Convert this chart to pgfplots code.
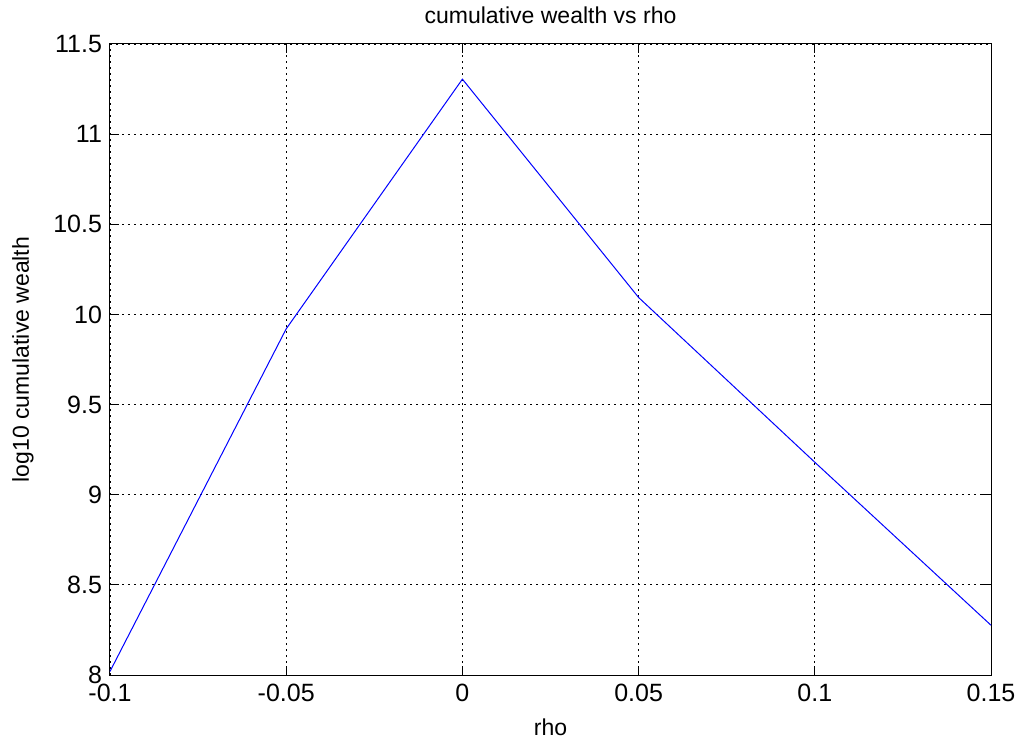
\documentclass[border=0pt]{standalone}
\usepackage{pgfplots}
\pgfplotsset{compat=1.18}
\usepackage{fontspec}
\setmainfont{Liberation Sans}
\begin{document}
\begin{tikzpicture}
\begin{axis}[
  scale only axis,
  width=440.5pt, height=315.5pt,
  xmin=-0.1, xmax=0.15, ymin=8, ymax=11.5,
  xtick={-0.1,-0.05,0,0.05,0.1,0.15},
  xticklabels={-0.1,-0.05,0,0.05,0.1,0.15},
  ytick={8,8.5,9,9.5,10,10.5,11,11.5},
  yticklabels={8,8.5,9,9.5,10,10.5,11,11.5},
  /pgf/number format/assume math mode=true,
  tick label style={font=\fontsize{12.5pt}{14pt}\selectfont, black},
  yticklabel style={xshift=-0.5pt},
  xticklabel style={yshift=-1pt},
  label style={font=\fontsize{11.5pt}{13pt}\selectfont},
  every axis title shift=0pt,
  title style={font=\fontsize{11.5pt}{13pt}\selectfont, at={(axis description cs:0.5,1)}, anchor=base, yshift=10pt},
  title={cumulative wealth vs rho},
  xlabel={rho}, ylabel={log10 cumulative wealth},
  xlabel style={at={(axis description cs:0.5,0)}, anchor=base, yshift=-30pt},
  ylabel style={at={(axis description cs:-0.092,0.5)}, anchor=base},
  tick align=inside,
  major tick length=4.5pt,
  xtick pos=both, ytick pos=both,
  axis line style={black, line width=0.5pt},
  grid=major,
  major grid style={black, line width=0.4pt, dash pattern=on 1.2pt off 1.8pt},
  every tick/.style={black, line width=0.5pt},
  clip=false,
]
\addplot[blue, line width=0.5pt] coordinates {
  (-0.1,8.02) (-0.05,9.92) (0,11.305) (0.05,10.094) (0.1,9.18) (0.15,8.276)
};
\end{axis}
\pgfresetboundingbox
\useasboundingbox (-55pt,-31.5pt) rectangle (455pt,337.5pt);
\end{tikzpicture}
\end{document}
